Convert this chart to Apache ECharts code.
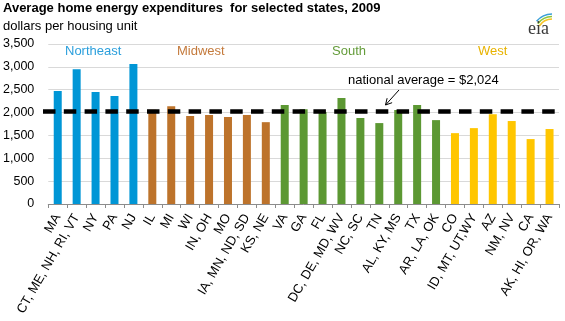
<!DOCTYPE html>
<html>
<head>
<meta charset="utf-8">
<script src="https://cdn.jsdelivr.net/npm/echarts@6/dist/echarts.min.js"></script>
<style>
  html, body { margin: 0; padding: 0; background: #fff; }
  #chart { width: 565px; height: 321px; }
</style>
</head>
<body>
<div id="chart"></div>
<script>
// Average home energy expenditures (dollars per housing unit), 2009
const northeastStates = ['MA', 'CT, ME, NH, RI, VT', 'NY', 'PA', 'NJ'];
const northeastValues = [2470, 2950, 2450, 2360, 3060];

const midwestStates = ['IL', 'MI', 'WI', 'IN, OH', 'MO', 'IA, MN, ND, SD', 'KS, NE'];
const midwestValues = [2060, 2140, 1925, 1945, 1905, 1945, 1790];

const southStates = ['VA', 'GA', 'FL', 'DC, DE, MD, WV', 'NC, SC', 'TN', 'AL, KY, MS', 'TX', 'AR, LA, OK'];
const southValues = [2165, 2075, 2015, 2320, 1880, 1770, 2055, 2165, 1835];

const westStates = ['CO', 'ID, MT, UT,WY', 'AZ', 'NM, NV', 'CA', 'AK, HI, OR, WA'];
const westValues = [1550, 1660, 1965, 1815, 1420, 1640];

const nationalAverage = 2024;
const yTicks = [0, 500, 1000, 1500, 2000, 2500, 3000, 3500];

const regions = [
  { name: 'Northeast', states: northeastStates, values: northeastValues, color: '#0096d6', text: '#2b9fdc', x: 65 },
  { name: 'Midwest', states: midwestStates, values: midwestValues, color: '#bd732b', text: '#c47a3c', x: 177 },
  { name: 'South', states: southStates, values: southValues, color: '#5c9833', text: '#649c3a', x: 332 },
  { name: 'West', states: westStates, values: westValues, color: '#ffc600', text: '#e8b300', x: 478 }
];

const categories = [];
const barData = [];
regions.forEach(r => {
  r.states.forEach((s, i) => {
    categories.push(s);
    barData.push({ value: r.values[i], itemStyle: { color: r.color } });
  });
});

const FONT = 'Liberation Sans, Arial, sans-serif';
const chart = echarts.init(document.getElementById('chart'), null, { renderer: 'canvas' });

// arrow pointing at the average line
const tail = [399, 90], tip = [385.5, 105];
const dx = tail[0] - tip[0], dy = tail[1] - tip[1];
const len = Math.sqrt(dx * dx + dy * dy);
const ux = dx / len, uy = dy / len;
function arm(angle) {
  const c = Math.cos(angle), s = Math.sin(angle);
  return [tip[0] + 7 * (ux * c - uy * s), tip[1] + 7 * (ux * s + uy * c)];
}

const graphics = regions.map(r => ({
  type: 'text', left: r.x, top: 45,
  style: { text: r.name, fill: r.text, font: '13px ' + FONT }
}));
graphics.push(
  { type: 'text', left: 348, top: 74, style: { text: 'national average = $2,024', fill: '#000', font: '13px ' + FONT } },
  { type: 'line', shape: { x1: tail[0], y1: tail[1], x2: tip[0], y2: tip[1] }, style: { stroke: '#000', lineWidth: 1 } },
  { type: 'polyline', shape: { points: [arm(0.5), tip, arm(-0.5)] }, style: { stroke: '#000', lineWidth: 1, fill: null } },
  // eia logo: three swooshes over the wordmark
  { type: 'arc', shape: { cx: 552, cy: 34, r: 20, startAngle: Math.PI * 1.22, endAngle: Math.PI * 1.5 }, style: { stroke: '#3aa0d8', lineWidth: 1.6, fill: null } },
  { type: 'arc', shape: { cx: 552, cy: 34, r: 17.5, startAngle: Math.PI * 1.2, endAngle: Math.PI * 1.5 }, style: { stroke: '#8cc63e', lineWidth: 1.6, fill: null } },
  { type: 'arc', shape: { cx: 552, cy: 34, r: 15, startAngle: Math.PI * 1.18, endAngle: Math.PI * 1.5 }, style: { stroke: '#f7c325', lineWidth: 1.6, fill: null } },
  { type: 'text', left: 528, top: 20, style: { text: 'eia', fill: '#3a3a3a', font: '18px Liberation Serif, serif' } }
);

chart.setOption({
  animation: false,
  backgroundColor: '#fff',
  title: [
    { text: 'Average home energy expenditures  for selected states, 2009', left: 3, top: 2, padding: 0,
      textStyle: { fontFamily: FONT, fontSize: 13, fontWeight: 'bold', color: '#000' } },
    { text: 'dollars per housing unit', left: 3, top: 20, padding: 0,
      textStyle: { fontFamily: FONT, fontSize: 13, fontWeight: 'normal', color: '#000' } }
  ],
  grid: { left: 48, right: 6, top: 44, bottom: 117, containLabel: false },
  xAxis: {
    type: 'category',
    data: categories,
    axisLine: { lineStyle: { color: '#8c8c8c', width: 1 } },
    axisTick: { show: true, length: 4, lineStyle: { color: '#8c8c8c' } },
    axisLabel: { rotate: 60, interval: 0, margin: 11, fontFamily: FONT, fontSize: 13, color: '#000' }
  },
  yAxis: {
    type: 'value',
    min: yTicks[0],
    max: yTicks[yTicks.length - 1],
    interval: yTicks[1] - yTicks[0],
    axisLine: { show: false },
    axisTick: { show: false },
    splitLine: { lineStyle: { color: '#d9d9d9', width: 1 } },
    axisLabel: {
      margin: 14, fontFamily: FONT, fontSize: 12.5, color: '#000',
      formatter: v => v.toLocaleString('en-US')
    }
  },
  graphic: graphics,
  series: [{
    type: 'bar',
    data: barData,
    barWidth: 8,
    markLine: {
      silent: true,
      symbol: 'none',
      label: { show: false },
      lineStyle: { color: '#000', width: 4.5, type: [12.5, 8.3], dashOffset: 0 },
      data: [[{ x: 43, yAxis: nationalAverage }, { x: 559, yAxis: nationalAverage }]]
    }
  }]
});
</script>
</body>
</html>
